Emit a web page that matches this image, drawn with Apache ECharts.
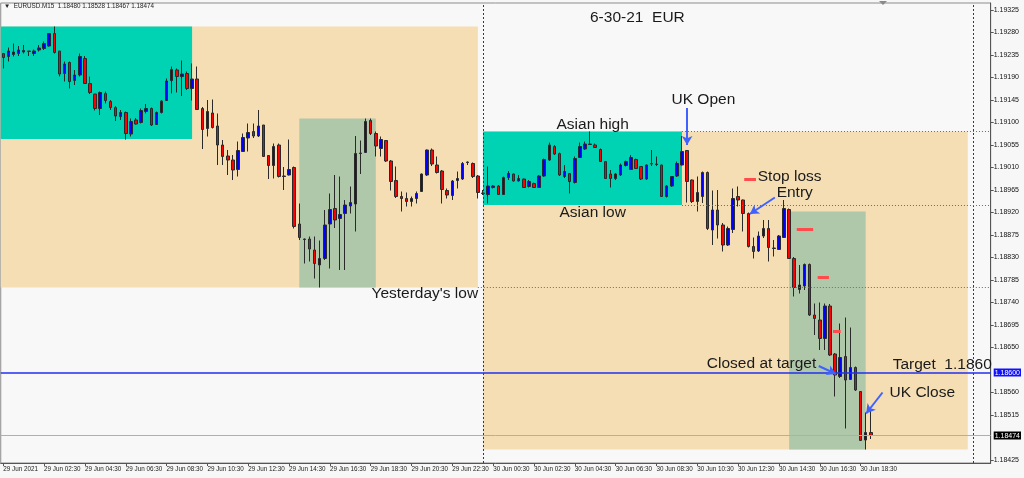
<!DOCTYPE html>
<html><head><meta charset="utf-8">
<script src="https://cdn.jsdelivr.net/npm/echarts@6/dist/echarts.min.js"></script>
<style>html,body{margin:0;padding:0;background:#f7f7f7}#c{width:1024px;height:478px}</style>
</head><body><div id="c"></div><script>
// EURUSD M15 bars, [open, high, low, close]; bar 0 = 29 Jun 00:30
const barsJun29 = [
[1.19238,1.19238,1.19208,1.19230],[1.19232,1.19250,1.19222,1.19243],[1.19236,1.19258,1.19232,1.19241],[1.19238,1.19253,1.19233,1.19245],
[1.19241,1.19255,1.19238,1.19244],[1.19243,1.19243,1.19233,1.19242],[1.19238,1.19246,1.19233,1.19243],[1.19245,1.19255,1.19242,1.19249],
[1.19248,1.19262,1.19245,1.19258],[1.19253,1.19278,1.19252,1.19278],[1.19278,1.19292,1.19238,1.19240],[1.19243,1.19243,1.19192,1.19197],
[1.19198,1.19222,1.19182,1.19217],[1.19220,1.19222,1.19168,1.19182],[1.19184,1.19205,1.19175,1.19195],[1.19195,1.19238,1.19192,1.19232],
[1.19228,1.19233,1.19177,1.19178],[1.19178,1.19192,1.19157,1.19160],[1.19157,1.19157,1.19124,1.19128],[1.19128,1.19162,1.19115,1.19160],
[1.19158,1.19162,1.19138,1.19144],[1.19142,1.19145,1.19125,1.19130],[1.19130,1.19133,1.19103,1.19113],[1.19112,1.19125,1.19105,1.19120],
[1.19120,1.19122,1.19066,1.19078],[1.19077,1.19108,1.19072,1.19102],[1.19105,1.19109,1.19096,1.19097],[1.19100,1.19128,1.19098,1.19124],
[1.19122,1.19137,1.19118,1.19128],[1.19128,1.19130,1.19093,1.19095],[1.19096,1.19122,1.19095,1.19120],[1.19120,1.19145,1.19118,1.19143],
[1.19144,1.19188,1.19143,1.19183],[1.19184,1.19212,1.19158,1.19206],[1.19205,1.19208,1.19160,1.19192],[1.19192,1.19224,1.19153,1.19197],
[1.19198,1.19202,1.19165,1.19168],[1.19168,1.19218,1.19144,1.19187],[1.19187,1.19212,1.19125,1.19126],[1.19128,1.19131,1.19047,1.19086],
[1.19088,1.19145,1.19072,1.19122],[1.19119,1.19146,1.19088,1.19090],[1.19093,1.19118,1.19015,1.19055],[1.19055,1.19065,1.19015,1.19032],
[1.19033,1.19045,1.18995,1.19025],[1.19025,1.19035,1.18985,1.19005],[1.19006,1.19062,1.18992,1.19044],[1.19042,1.19078,1.19042,1.19070],
[1.19069,1.19098,1.19042,1.19080],[1.19082,1.19098,1.19069,1.19073],[1.19073,1.19125,1.19071,1.19093],[1.19095,1.19095,1.19031,1.19032],
[1.19034,1.19035,1.18987,1.19014],[1.19014,1.19058,1.18988,1.19052],[1.19055,1.19058,1.18990,1.18992],[1.18992,1.19011,1.18965,1.18993],
[1.18995,1.19066,1.18994,1.19006],[1.19010,1.19012,1.18888,1.18892],[1.18897,1.18938,1.18865,1.18870],[1.18867,1.18868,1.18818,1.18866],
[1.18867,1.18872,1.18822,1.18847],[1.18845,1.18872,1.18788,1.18818],[1.18815,1.18864,1.18770,1.18828],[1.18828,1.18925,1.18825,1.18895],
[1.18897,1.18958,1.18808,1.18926],[1.18928,1.18995,1.18889,1.18905],[1.18908,1.18992,1.18805,1.18916],[1.18918,1.18945,1.18805,1.18935],
[1.18933,1.18972,1.18918,1.18940],[1.18937,1.19073,1.18882,1.19038],[1.19038,1.19064,1.18997,1.19039],[1.19040,1.19108,1.19039,1.19102],
[1.19104,1.19108,1.19075,1.19078],[1.19078,1.19082,1.19032,1.19053],[1.19048,1.19072,1.19032,1.19066],[1.19064,1.19065,1.19021,1.19023],
[1.19023,1.19025,1.18964,1.18982],[1.18984,1.19012,1.18949,1.18952],[1.18952,1.18962,1.18922,1.18948],[1.18948,1.18960,1.18932,1.18942],
[1.18942,1.18952,1.18932,1.18948],[1.18948,1.18962,1.18938,1.18958],[1.18962,1.18998,1.18961,1.18997],[1.18995,1.19046,1.18993,1.19045],
[1.19045,1.19048,1.19013,1.19017],[1.19015,1.19032,1.18998,1.19000],[1.19003,1.19005,1.18938,1.18966],[1.18964,1.18968,1.18948,1.18955],
[1.18954,1.18985,1.18945,1.18983],[1.18984,1.19002,1.18968,1.18988],[1.18987,1.19021,1.18985,1.19018],[1.19020,1.19022,1.19015,1.19021],
[1.19018,1.19020,1.18989,1.18992],[1.18993,1.18995,1.18948,1.18960]
];
// bar 94 = 30 Jun 00:00
const barsJun30 = [
[1.18958,1.18965,1.18955,1.18959],[1.18956,1.19012,1.18938,1.18973],[1.18970,1.18975,1.18968,1.18973],[1.18973,1.18975,1.18955,1.18956],
[1.18956,1.18992,1.18955,1.18990],[1.18990,1.19003,1.18985,1.18998],[1.18997,1.18998,1.18982,1.18983],[1.18983,1.18995,1.18982,1.18988],
[1.18987,1.18988,1.18969,1.18970],[1.18972,1.18985,1.18970,1.18982],[1.18978,1.18980,1.18969,1.18970],[1.18970,1.18995,1.18969,1.18993],
[1.18993,1.19028,1.18991,1.19026],[1.19025,1.19060,1.19023,1.19055],[1.19052,1.19055,1.19035,1.19037],[1.19038,1.19040,1.18993,1.18995],
[1.18992,1.19015,1.18989,1.19002],[1.18998,1.18999,1.18958,1.18982],[1.18980,1.19032,1.18978,1.19028],[1.19030,1.19060,1.19029,1.19052],
[1.19047,1.19062,1.19045,1.19057],[1.19056,1.19082,1.19055,1.19057],[1.19055,1.19058,1.19049,1.19050],[1.19046,1.19048,1.19021,1.19022],
[1.19022,1.19023,1.18987,1.18988],[1.18997,1.19005,1.18970,1.18988],[1.18988,1.18999,1.18985,1.18997],[1.18995,1.19018,1.18993,1.19015],
[1.19014,1.19024,1.19012,1.19022],[1.19006,1.19035,1.19005,1.19030],[1.19026,1.19028,1.19007,1.19008],[1.19012,1.19013,1.18985,1.18987],
[1.18987,1.19016,1.18985,1.19015],[1.19017,1.19045,1.19013,1.19018],[1.19016,1.19032,1.19013,1.19017],[1.19015,1.19016,1.18951,1.18952],
[1.18952,1.18975,1.18950,1.18973],[1.18973,1.18993,1.18971,1.18992],[1.18993,1.19022,1.18991,1.19018],[1.19015,1.19073,1.19014,1.19042],
[1.19044,1.19045,1.18940,1.18982],[1.18985,1.18986,1.18939,1.18942],[1.18942,1.18992,1.18922,1.18960],[1.18952,1.19002,1.18939,1.19000],
[1.19000,1.19002,1.18885,1.18888],[1.18885,1.18964,1.18855,1.18925],[1.18925,1.18965,1.18868,1.18895],[1.18895,1.18899,1.18842,1.18855],
[1.18855,1.18892,1.18853,1.18888],[1.18886,1.18968,1.18879,1.18948],[1.18952,1.18972,1.18932,1.18945],[1.18945,1.18946,1.18882,1.18918],
[1.18918,1.18920,1.18850,1.18852],[1.18852,1.18870,1.18828,1.18842],[1.18843,1.18882,1.18841,1.18873],[1.18873,1.18905,1.18869,1.18888],
[1.18888,1.18905,1.18822,1.18850],[1.18848,1.18865,1.18832,1.18849],[1.18846,1.18875,1.18845,1.18873],[1.18870,1.18945,1.18869,1.18928],
[1.18926,1.18928,1.18827,1.18828],[1.18828,1.18831,1.18752,1.18770],[1.18766,1.18815,1.18758,1.18775],[1.18773,1.18818,1.18765,1.18816],
[1.18816,1.18818,1.18713,1.18715],[1.18715,1.18738,1.18675,1.18708],[1.18705,1.18740,1.18645,1.18668],[1.18668,1.18738,1.18645,1.18733],
[1.18733,1.18737,1.18633,1.18635],[1.18637,1.18639,1.18552,1.18595],[1.18592,1.18698,1.18589,1.18630],[1.18632,1.18710,1.18488,1.18585],
[1.18586,1.18690,1.18585,1.18610],[1.18610,1.18612,1.18563,1.18565],[1.18562,1.18563,1.18463,1.18464],[1.18465,1.18520,1.18446,1.18480],
[1.18480,1.18528,1.18467,1.18474]
];
const xTickLabels = ["29 Jun 2021","29 Jun 02:30","29 Jun 04:30","29 Jun 06:30","29 Jun 08:30","29 Jun 10:30","29 Jun 12:30",
  "29 Jun 14:30","29 Jun 16:30","29 Jun 18:30","29 Jun 20:30","29 Jun 22:30","30 Jun 00:30","30 Jun 02:30","30 Jun 04:30",
  "30 Jun 06:30","30 Jun 08:30","30 Jun 10:30","30 Jun 12:30","30 Jun 14:30","30 Jun 16:30","30 Jun 18:30"];
const xTickBars = [0,8,16,24,32,40,48,56,64,72,80,88,96,104,112,120,128,136,144,152,160,168];
const priceTicks = [1.19325,1.19280,1.19235,1.19190,1.19145,1.19100,1.19055,1.19010,1.18965,1.18920,1.18875,
  1.18830,1.18785,1.18740,1.18695,1.18650,1.18560,1.18515,1.18425];
const targetLevel = 1.18600;
const bidLevel = 1.18474;
const daySeparators = [94, 190];
// [startBar, endBar, high, low]
const dayRanges = [[-2, 93, 1.19292, 1.18770], [94, 189, 1.19082, 1.18446]];
const asianRanges = [[-2, 37, 1.19292, 1.19067], [94, 133, 1.19082, 1.18935]];
const ukRanges = [[58, 73, 1.19108, 1.18770], [154, 169, 1.18922, 1.18446]];
// dotted levels [startBar, price]: Asian high, Asian low, yesterday's low
const dottedLevels = [[133, 1.19082], [133, 1.18935], [93, 1.18770]];
// short red stop marks [fromBar, toBar, price]
const stopMarks = [[145.2, 147.5, 1.18987], [155.5, 158.7, 1.18886], [159.6, 161.8, 1.18790], [162.6, 164.1, 1.18682]];
// arrows [fromBar, fromPrice, toBar, toPrice]
const arrows = [[134.0, 1.19129, 134.0, 1.19055], [151.2, 1.18950, 146.3, 1.18917],
  [159.8, 1.18613, 163.2, 1.18597], [172.3, 1.18560, 169.1, 1.18518]];
// notes [text, bar, price]
const notes = [["Asian high", 115.5, 1.19095], ["UK Open", 137.2, 1.19145], ["Asian low", 115.5, 1.18919],
  ["Yesterday's low", 82.6, 1.18757], ["Stop loss", 154.1, 1.18991], ["Entry", 155.1, 1.18959],
  ["Closed at target", 148.6, 1.18617], ["Target  1.1860", 184.0, 1.18615], ["UK Close", 180.1, 1.18559]];

const bars = barsJun29.concat(barsJun30);
const candleData = bars.map((b, i) => [i, b[0], b[3], b[2], b[1]]);
const last = bars[bars.length - 1];
const FONT = "'Liberation Sans', Arial, sans-serif";
const X_MIN = -0.5, X_MAX = 193.5;

const boxColors = {day: '#F5DEB3', asia: '#00D2B4', uk: '#B0C8AA'};
function box(r, color) {
  return [{coord: [r[0], r[2]], itemStyle: {color: color, opacity: 1}}, {coord: [r[1], r[3]]}];
}
const areas = [];
[0, 1].forEach(d => {
  areas.push(box(dayRanges[d], boxColors.day));
  areas.push(box(asianRanges[d], boxColors.asia));
  areas.push(box(ukRanges[d], boxColors.uk));
});

function seg(x1, y1, x2, y2, style) {
  return [{coord: [x1, y1], lineStyle: style}, {coord: [x2, y2]}];
}
const lines = [];
daySeparators.forEach(b => lines.push({xAxis: b, lineStyle: {color: '#3a3a3a', width: 1, type: [2, 2]}}));
dottedLevels.forEach(l => lines.push(seg(l[0], l[1], X_MAX, l[1], {color: '#ff3030', width: 1, type: [1, 2]})));
lines.push(seg(X_MIN, bidLevel, X_MAX, bidLevel, {color: '#a8b2b2', width: 1, type: 'solid'}));
lines.push(seg(X_MIN, targetLevel, X_MAX, targetLevel, {color: '#2030f0', width: 1.5, type: 'solid'}));
stopMarks.forEach(s => lines.push(seg(s[0], s[2], s[1], s[2], {color: '#ff4b4b', width: 3, type: 'solid'})));
arrows.forEach(a => lines.push([{coord: [a[0], a[1]], symbol: 'none', lineStyle: {color: '#3f62ff', width: 2, type: 'solid'}},
  {coord: [a[2], a[3]], symbol: 'arrow', symbolSize: [8, 9]}]));

const chart = echarts.init(document.getElementById('c'), null, {renderer: 'canvas'});
chart.setOption({
  animation: false,
  backgroundColor: '#f7f7f7',
  title: [
    {text: '\u25BC  EURUSD.M15  ' + last.map(v => v.toFixed(5)).join(' '), left: 4, top: 3, padding: 0,
     textStyle: {fontSize: 6.3, fontWeight: 'normal', color: '#222', fontFamily: FONT}},
    {text: '6-30-21  EUR', left: 590, top: 10, padding: 0,
     textStyle: {fontSize: 15.5, fontWeight: 'normal', color: '#1a1a1a', fontFamily: FONT}}
  ],
  grid: {left: 0.74, right: 30.76, top: 3, bottom: 15, show: true, borderColor: '#8c8c8c', borderWidth: 1, backgroundColor: '#f8f8f8'},
  xAxis: {
    type: 'value', min: X_MIN, max: X_MAX,
    axisLine: {show: true, onZero: false, lineStyle: {color: '#555', width: 1}},
    axisTick: {show: true, length: 3, customValues: xTickBars, lineStyle: {color: '#555'}},
    axisLabel: {customValues: xTickBars, formatter: v => xTickLabels[xTickBars.indexOf(v)], align: 'left', margin: 3,
      fontSize: 6.3, color: '#222', fontFamily: FONT},
    splitLine: {show: false}
  },
  yAxis: {
    type: 'value', position: 'right', min: 1.18419, max: 1.19339,
    axisLine: {show: true, onZero: false, lineStyle: {color: '#555', width: 1}},
    axisTick: {show: true, length: 3, customValues: priceTicks, lineStyle: {color: '#555'}},
    axisLabel: {
      customValues: priceTicks.concat([targetLevel, bidLevel]), margin: 3, fontSize: 7, color: '#111', fontFamily: FONT,
      formatter: v => {
        const s = v.toFixed(5);
        if (Math.abs(v - targetLevel) < 1e-7) return '{tg|' + s + '}';
        if (Math.abs(v - bidLevel) < 1e-7) return '{bid|' + s + '}';
        return s;
      },
      rich: {
        tg: {backgroundColor: '#1010ff', color: '#fff', padding: [1, 1, 0, 1], fontSize: 7, fontFamily: FONT},
        bid: {backgroundColor: '#000', color: '#fff', padding: [1, 1, 0, 1], fontSize: 7, fontFamily: FONT}
      }
    },
    splitLine: {show: false}
  },
  graphic: [{type: 'polygon', shape: {points: [[879, 1], [887, 1], [883, 5]]}, style: {fill: '#8a8a8a'}, silent: true}],
  series: [{
    type: 'candlestick',
    data: candleData,
    barWidth: 3,
    itemStyle: {color: '#0000ff', color0: '#ff0000', borderColor: '#2a2a2a', borderColor0: '#2a2a2a', borderColorDoji: '#2a2a2a', borderWidth: 1},
    markArea: {silent: true, z: 1, data: areas},
    markLine: {silent: true, symbol: ['none', 'none'], label: {show: false}, data: lines},
    markPoint: {
      silent: true, symbol: 'rect', symbolSize: 1, itemStyle: {color: 'rgba(0,0,0,0)'},
      label: {show: true, position: 'inside', formatter: p => p.name, fontSize: 15.5, color: '#1a1a1a', fontFamily: FONT},
      data: notes.map(n => ({name: n[0], coord: [n[1], n[2]]}))
    }
  }]
});
</script></body></html>
